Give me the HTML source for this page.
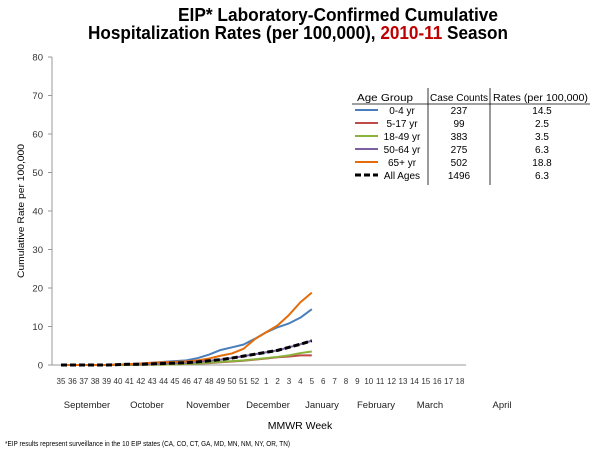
<!DOCTYPE html>
<html><head><meta charset="utf-8"><style>
body{margin:0;background:#fff;width:600px;height:450px;overflow:hidden}
svg{display:block;font-family:"Liberation Sans",sans-serif}
</style></head><body>
<svg id="s" width="600" height="450" xmlns="http://www.w3.org/2000/svg">
<text x="178" y="21" font-size="18" font-weight="bold" fill="#000" textLength="320" lengthAdjust="spacingAndGlyphs">EIP* Laboratory-Confirmed Cumulative</text>
<text x="88" y="39" font-size="18" font-weight="bold" fill="#000" textLength="420" lengthAdjust="spacingAndGlyphs">Hospitalization Rates (per 100,000), <tspan fill="#c00000">2010-11</tspan> Season</text>
<line x1="52" y1="57" x2="52" y2="365" stroke="#999" stroke-width="1"/>
<line x1="52" y1="365" x2="466" y2="365" stroke="#999" stroke-width="1"/>
<g id="yt" font-size="9.5" fill="#333" text-anchor="end"></g>
<g id="xt" font-size="8" fill="#333" text-anchor="middle"></g>
<g font-size="9.5" fill="#222" text-anchor="middle">
<text x="87" y="408">September</text><text x="147" y="408">October</text><text x="208" y="408">November</text><text x="268" y="408">December</text><text x="322" y="408">January</text><text x="376" y="408">February</text><text x="430" y="408">March</text><text x="502" y="408">April</text>
</g>
<text x="300" y="429" font-size="10.5" text-anchor="middle" fill="#000">MMWR Week</text>
<text x="5" y="446" font-size="7" fill="#000" textLength="285" lengthAdjust="spacingAndGlyphs">*EIP results represent surveillance in the 10 EIP states (CA, CO, CT, GA, MD, MN, NM, NY, OR, TN)</text>
<text transform="translate(24,211) rotate(-90)" font-size="9.5" text-anchor="middle" fill="#000" textLength="134" lengthAdjust="spacingAndGlyphs">Cumulative Rate per 100,000</text>
<g id="ser" fill="none" stroke-linejoin="round"></g>
<g font-size="10" fill="#000">
<line x1="428" y1="88" x2="428" y2="185" stroke="#000" stroke-width="0.8"/>
<line x1="490" y1="88" x2="490" y2="185" stroke="#000" stroke-width="0.8"/>
<line x1="352" y1="104" x2="590" y2="104" stroke="#000" stroke-width="0.8"/>
<text x="357" y="101" textLength="56" lengthAdjust="spacingAndGlyphs">Age Group</text>
<text x="430" y="101" textLength="58" lengthAdjust="spacingAndGlyphs">Case Counts</text>
<text x="493" y="101" textLength="95" lengthAdjust="spacingAndGlyphs">Rates (per 100,000)</text>
<g id="leg"></g>
</g>
</svg>
<script>
var NS='http://www.w3.org/2000/svg';
function el(p,t,a,txt){var e=document.createElementNS(NS,t);for(var k in a)e.setAttribute(k,a[k]);if(txt!=null)e.textContent=txt;document.getElementById(p).appendChild(e);return e;}
function Y(v){return 365-v*3.85;}function X(i){return 61+i*11.4;}
for(var v=0;v<=80;v+=10){el('yt','text',{x:43,y:Y(v)+3.5},v);el('yt','line',{x1:48,x2:52,y1:Y(v),y2:Y(v),stroke:'#999'});}
var wk=[];for(var w=35;w<=52;w++)wk.push(w);for(w=1;w<=18;w++)wk.push(w);
wk.forEach(function(w,i){el('xt','text',{x:X(i),y:384},w);});
var z=[0,0,0,0,0];
var D={
o:{c:'#e46c0a',d:z.concat([0.1,0.2,0.4,0.6,0.7,0.8,0.9,1.2,1.7,2.4,3.0,4.2,6.7,8.5,10.3,13,16.3,18.8])},
b:{c:'#4a7ebb',d:z.concat([0.1,0.2,0.4,0.6,0.8,1.0,1.2,1.8,2.7,3.9,4.6,5.3,6.8,8.5,9.8,10.8,12.3,14.5])},
g:{c:'#8bb33c',d:z.concat([0,0,0.05,0.1,0.1,0.2,0.3,0.4,0.6,0.8,1.0,1.2,1.5,1.8,2.1,2.5,3.1,3.5])},
r:{c:'#be4b48',d:z.concat([0,0,0.05,0.1,0.1,0.2,0.3,0.4,0.5,0.7,0.9,1.1,1.4,1.7,2.0,2.2,2.5,2.5])},
p:{c:'#7d60a0',d:z.concat([0.1,0.2,0.2,0.3,0.4,0.5,0.6,0.8,1.1,1.4,1.8,2.3,2.8,3.3,3.8,4.6,5.4,6.3])}
};
['r','g','p','b','o'].forEach(function(k){el('ser','polyline',{stroke:D[k].c,'stroke-width':2,points:D[k].d.map(function(v,i){return X(i)+','+Y(v)}).join(' ')});});
el('ser','polyline',{stroke:'#000','stroke-width':3,'stroke-dasharray':'6,3',points:D.p.d.map(function(v,i){return X(i)+','+Y(v)}).join(' ')});
var L=[['#4a7ebb','0-4 yr',237,'14.5'],['#be4b48','5-17 yr',99,'2.5'],['#8bb33c','18-49 yr',383,'3.5'],['#7d60a0','50-64 yr',275,'6.3'],['#e46c0a','65+ yr',502,'18.8'],['#000','All Ages',1496,'6.3']];
L.forEach(function(r,i){var y=114+i*13;
el('leg','line',{x1:355,x2:378,y1:y-4,y2:y-4,stroke:r[0],'stroke-width':i==5?3:2,'stroke-dasharray':i==5?'6,3':'none'});
el('leg','text',{x:402,y:y,'text-anchor':'middle'},r[1]);
el('leg','text',{x:459,y:y,'text-anchor':'middle'},r[2]);
el('leg','text',{x:542,y:y,'text-anchor':'middle'},r[3]);});
</script>
</body></html>
